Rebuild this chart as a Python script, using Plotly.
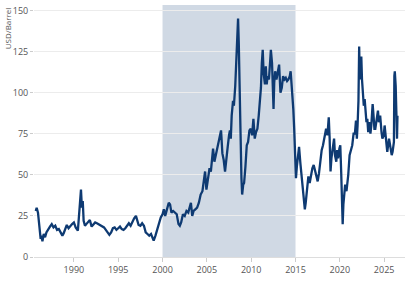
import plotly.graph_objects as go

years = [
 1985.7,1985.8,1985.95,1986.1,1986.25,1986.35,1986.45,1986.6,1986.75,1986.9,
 1987.1,1987.3,1987.5,1987.7,1987.9,1988.1,1988.3,1988.5,1988.7,1988.85,
 1989.0,1989.2,1989.4,1989.6,1989.8,1990.0,1990.2,1990.45,1990.6,1990.75,
 1990.8,1990.9,1991.0,1991.1,1991.25,1991.4,1991.6,1991.8,1992.0,1992.2,
 1992.4,1992.6,1992.8,1993.0,1993.2,1993.4,1993.6,1993.8,1994.0,1994.2,
 1994.4,1994.6,1994.8,1995.0,1995.2,1995.4,1995.6,1995.8,1996.0,1996.2,
 1996.4,1996.6,1996.8,1997.0,1997.1,1997.3,1997.5,1997.7,1997.9,1998.1,
 1998.3,1998.5,1998.7,1998.9,1999.0,1999.2,1999.4,1999.6,1999.8,2000.0,
 2000.15,2000.3,2000.5,2000.7,2000.85,2001.0,2001.2,2001.4,2001.6,2001.8,
 2001.95,2002.1,2002.3,2002.5,2002.7,2002.9,2003.1,2003.2,2003.35,2003.5,
 2003.7,2003.9,2004.1,2004.3,2004.5,2004.65,2004.8,2004.95,2005.1,2005.3,
 2005.45,2005.6,2005.7,2005.85,2006.0,2006.2,2006.4,2006.6,2006.75,2006.9,
 2007.05,2007.2,2007.35,2007.5,2007.6,2007.7,2007.8,2007.95,2008.05,2008.2,
 2008.35,2008.45,2008.52,2008.6,2008.7,2008.8,2008.9,2008.98,2009.1,2009.2,
 2009.35,2009.5,2009.65,2009.8,2009.95,2010.1,2010.25,2010.4,2010.55,2010.7,
 2010.85,2010.95,2011.1,2011.2,2011.3,2011.4,2011.55,2011.65,2011.75,2011.85,
 2012.0,2012.15,2012.22,2012.35,2012.45,2012.52,2012.6,2012.7,2012.85,2013.0,
 2013.15,2013.3,2013.45,2013.6,2013.75,2013.9,2014.05,2014.2,2014.35,2014.45,
 2014.55,2014.65,2014.75,2014.85,2014.95,2015.05,2015.15,2015.3,2015.4,2015.55,
 2015.7,2015.85,2015.95,2016.05,2016.15,2016.3,2016.45,2016.6,2016.75,2016.9,
 2017.05,2017.2,2017.4,2017.5,2017.65,2017.8,2017.95,2018.1,2018.3,2018.45,
 2018.6,2018.75,2018.85,2018.95,2019.05,2019.2,2019.35,2019.45,2019.6,2019.7,
 2019.8,2019.95,2020.05,2020.15,2020.25,2020.32,2020.4,2020.5,2020.6,2020.75,
 2020.85,2020.95,2021.1,2021.25,2021.4,2021.55,2021.7,2021.82,2021.92,2022.0,
 2022.1,2022.18,2022.25,2022.33,2022.42,2022.5,2022.6,2022.7,2022.8,2022.9,
 2023.0,2023.1,2023.2,2023.3,2023.45,2023.55,2023.7,2023.8,2023.9,2024.0,
 2024.15,2024.3,2024.4,2024.55,2024.7,2024.8,2024.95,2025.05,2025.2,2025.35,
 2025.45,2025.55,2025.7,2025.85,2025.95,2026.1,2026.15,2026.2,2026.3,2026.4,
 2026.45,2026.5,
]
prices = [
 28,30,27,19,11,13,9.5,14,12,15,
 17,18.5,20,18,19,16.5,17,15,13,14.5,
 17,19.5,17.5,19,20,21,18,16,25,38,
 41,30,34,22,19,20,21,22.5,18.5,19.5,
 21,20.5,20,19,18.5,18,16.5,15,13.5,15,
 17.5,18,16.5,17.5,18.5,17,16.5,17.5,19,20.5,
 19,21.5,23.5,25,23,19.5,19,20.5,19,15,
 14,13,14,11,10,13,17,21,24,26,
 29,25,30,33,32,27,28,27,26,20,
 19,21,26,25,28,27,32,33,25,28,
 29,30,33,38,40,45,52,41,48,54,
 52,63,66,58,62,68,72,77,63,59,
 52,62,67,74,77,72,86,95,92,104,
 120,133,145,130,110,75,48,38,44,45,
 55,68,70,77,78,74,84,72,76,78,
 86,93,103,118,126,112,105,116,105,110,
 108,120,126,118,97,90,106,113,108,112,
 117,100,103,110,108,109,107,108,110,113,
 106,100,90,78,60,48,55,63,67,57,
 48,44,37,29,33,42,49,45,50,54,
 56,52,48,46,51,58,65,68,74,78,
 74,85,72,52,60,66,72,62,58,65,
 60,66,68,52,30,20,32,42,44,40,
 44,50,62,65,68,75,75,83,72,80,
 95,128,108,118,122,108,100,92,96,84,
 82,84,76,82,75,80,93,86,78,78,
 84,89,82,86,76,72,74,80,72,64,
 68,72,67,62,64,70,110,113,104,90,
 72,86,
]

x_ticks = [1990, 1995, 2000, 2005, 2010, 2015, 2020, 2025]
y_ticks = [0, 25, 50, 75, 100, 125, 150]
shade_start, shade_end = 2000, 2015

fig = go.Figure()
fig.add_trace(go.Scatter(x=years, y=prices, mode="lines",
                         line=dict(color="#0e3a72", width=2.3), hoverinfo="skip"))

fig.add_shape(type="rect", xref="x", yref="paper", x0=shade_start, x1=shade_end,
              y0=0, y1=1, fillcolor="#d0d9e4", line=dict(width=0), layer="below")

fig.add_annotation(text="USD/Barrel", xref="paper", yref="paper", x=-0.072, y=1.0,
                   xanchor="center", yanchor="top", textangle=-90, showarrow=False,
                   font=dict(size=8, color="#555555"))

fig.update_layout(
    width=414, height=281,
    margin=dict(l=34, r=9, t=5, b=24),
    paper_bgcolor="white", plot_bgcolor="white",
    showlegend=False,
    font=dict(family="Open Sans", size=9, color="#555555"),
    xaxis=dict(range=[1985.5, 2027.35], tickvals=x_ticks, ticktext=[str(v) for v in x_ticks],
               showgrid=False, zeroline=False, showline=True, linecolor="#dddddd",
               ticks="outside", ticklen=4, tickcolor="#cccccc"),
    yaxis=dict(range=[0, 153.3], tickvals=y_ticks, showgrid=True, gridcolor="#ececec",
               zeroline=False, showline=False, ticks="outside", ticklen=3,
               tickcolor="#cccccc"),
)

fig.write_html("out.html")
